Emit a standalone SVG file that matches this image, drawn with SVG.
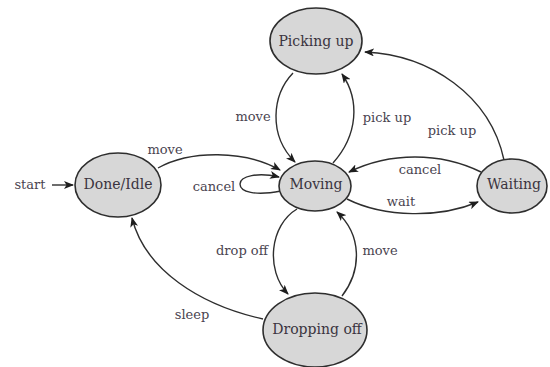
<svg xmlns="http://www.w3.org/2000/svg" width="550" height="367" viewBox="0 0 550 367">
<style>
.node ellipse{fill:#d7d7d7;stroke:#2e2e2e;stroke-width:1.6}
.nl{font-family:"DejaVu Serif","Liberation Serif",serif;font-size:14px;fill:#3a3440;text-anchor:middle}
.el{font-family:"DejaVu Serif","Liberation Serif",serif;font-size:13px;fill:#4a4450;text-anchor:middle}
.edges path{fill:none;stroke:#2e2e2e;stroke-width:1.4;marker-end:url(#arr)}
</style>
<defs>
<marker id="arr" viewBox="0 0 10 8" refX="9" refY="4" markerWidth="10" markerHeight="8" markerUnits="userSpaceOnUse" orient="auto">
<path d="M0,0 L10,4 L0,8 L2.5,4 z" fill="#1e1e1e"/>
</marker>
</defs>
<rect width="550" height="367" fill="#ffffff"/>
<g class="edges">
<path d="M52,185 L73,185"/>
<path d="M158,168 C190,150 245,150 280,170"/>
<path d="M281,191 C255,196 240,192 240,184 C240,176 258,172 279,177"/>
<path d="M293,73 C272,95 268,135 295,162"/>
<path d="M333,163 C358,135 360,100 342,74"/>
<path d="M504,160 C490,95 430,55 365,52"/>
<path d="M481,172 C440,152 390,152 349,172"/>
<path d="M347,199 C385,218 440,218 478,202"/>
<path d="M297,209 C270,225 265,270 288,294"/>
<path d="M342,296 C362,270 362,235 337,212"/>
<path d="M263,319 C200,305 145,270 132,218"/>
</g>
<g class="labels">
<text class="el" x="30" y="189">start</text>
<text class="el" x="165" y="154">move</text>
<text class="el" x="214" y="191">cancel</text>
<text class="el" x="253" y="121">move</text>
<text class="el" x="387" y="122">pick up</text>
<text class="el" x="452" y="135">pick up</text>
<text class="el" x="420" y="174">cancel</text>
<text class="el" x="401" y="206">wait</text>
<text class="el" x="242" y="255">drop off</text>
<text class="el" x="380" y="255">move</text>
<text class="el" x="192" y="319">sleep</text>
</g>
<g id="done" class="node"><ellipse cx="118" cy="185" rx="43" ry="32"/><text class="nl" x="118" y="189">Done/Idle</text></g>
<g id="picking" class="node"><ellipse cx="316" cy="41" rx="46" ry="33"/><text class="nl" x="316" y="46">Picking up</text></g>
<g id="moving" class="node"><ellipse cx="315" cy="186" rx="36" ry="25"/><text class="nl" x="316" y="189">Moving</text></g>
<g id="waiting" class="node"><ellipse cx="512" cy="186" rx="35" ry="27"/><text class="nl" x="514" y="189">Waiting</text></g>
<g id="dropping" class="node"><ellipse cx="315" cy="330" rx="52" ry="37"/><text class="nl" x="317" y="334">Dropping off</text></g>
</svg>
